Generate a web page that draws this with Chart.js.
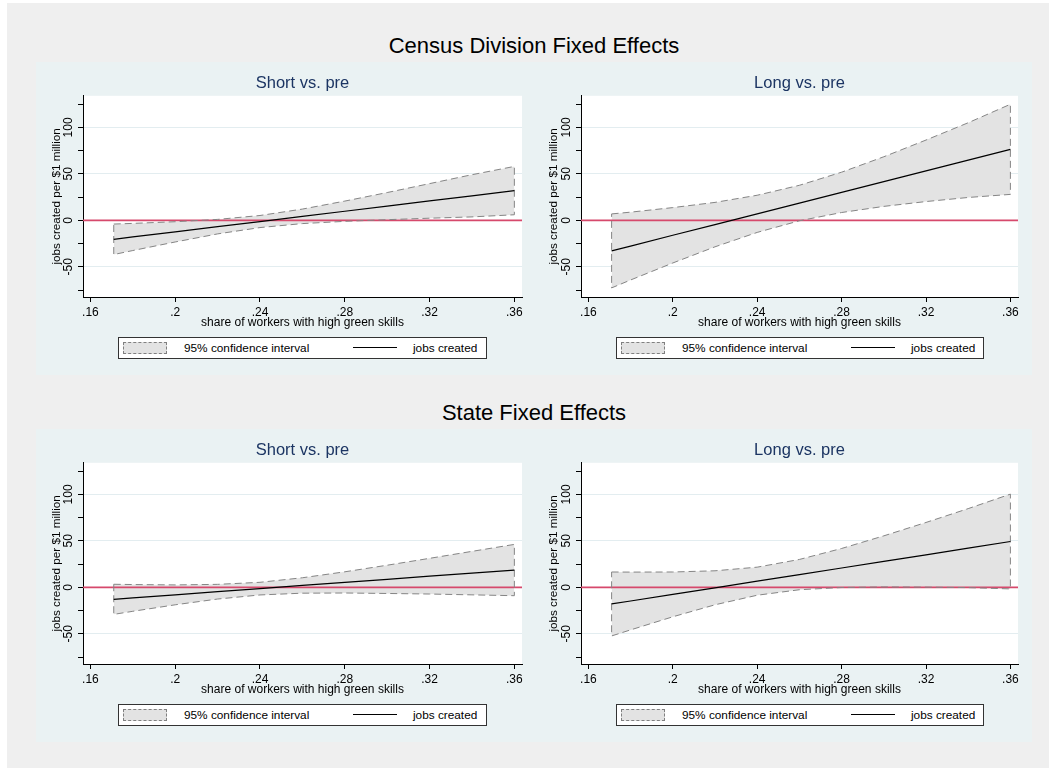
<!DOCTYPE html>
<html>
<head>
<meta charset="utf-8">
<script src="https://cdn.jsdelivr.net/npm/chart.js@4.4.1/dist/chart.umd.min.js"></script>
<style>
  body { margin: 0; width: 1049px; height: 768px; background: #fff; position: relative; overflow: hidden;
         font-family: "Liberation Sans", Arial, sans-serif; }
  #bg { position: absolute; left: 7px; top: 3px; width: 1042px; height: 765px; background: #efefef; }
  .sup { position: absolute; left: 36px; width: 996px; text-align: center; font-size: 22px; line-height: 24px; color: #000; }
  .panel { position: absolute; height: 313px; background: #eaf2f3; }
  .panel canvas { position: absolute; left: 0; top: 0; }
  .legend { position: absolute; top: 275px; height: 22px; box-sizing: border-box; border: 1px solid #333;
            background: #fff; font-size: 11.8px; color: #000; }
  .key-ci { position: absolute; left: 4px; top: 4px; width: 44px; height: 12px; box-sizing: border-box;
            background: #e3e3e3; border: 1px dashed #808080; }
  .key-line { position: absolute; left: 234px; top: 9px; width: 44px; height: 0; border-top: 1px solid #000; }
  .lab1 { position: absolute; left: 65px; top: 0; line-height: 20px; }
  .lab2 { position: absolute; left: 294px; top: 0; line-height: 20px; }
</style>
</head>
<body>
<div id="bg"></div>
<div class="sup" style="top:34px">Census Division Fixed Effects</div>
<div class="sup" style="top:401px">State Fixed Effects</div>

<div class="panel" style="left:36px; top:62px; width:492px">
  <canvas id="cdShort" width="492" height="268"></canvas>
  <div class="legend" style="left:82px; width:369px"><div class="key-ci"></div><span class="lab1">95% confidence interval</span><div class="key-line"></div><span class="lab2">jobs created</span></div>
</div>
<div class="panel" style="left:528px; top:62px; width:504px">
  <canvas id="cdLong" width="504" height="268"></canvas>
  <div class="legend" style="left:88px; width:368px"><div class="key-ci"></div><span class="lab1">95% confidence interval</span><div class="key-line"></div><span class="lab2">jobs created</span></div>
</div>
<div class="panel" style="left:36px; top:429px; width:492px">
  <canvas id="stShort" width="492" height="268"></canvas>
  <div class="legend" style="left:82px; width:369px"><div class="key-ci"></div><span class="lab1">95% confidence interval</span><div class="key-line"></div><span class="lab2">jobs created</span></div>
</div>
<div class="panel" style="left:528px; top:429px; width:504px">
  <canvas id="stLong" width="504" height="268"></canvas>
  <div class="legend" style="left:88px; width:368px"><div class="key-ci"></div><span class="lab1">95% confidence interval</span><div class="key-line"></div><span class="lab2">jobs created</span></div>
</div>

<script>
// share of workers with high green skills
const xs = [0.171, 0.18, 0.20, 0.22, 0.24, 0.26, 0.28, 0.30, 0.32, 0.34, 0.36];

// Census division FE, short vs. pre
const cdShortFit   = [-20.4, -17.9, -12.4, -6.8, -1.3, 4.3, 9.8, 15.3, 20.9, 26.4, 32.0];
const cdShortUpper = [-4.0, -3.3, -1.5, 1.0, 5.2, 12.1, 20.7, 29.9, 39.5, 49.1, 58.0];
const cdShortLower = [-36.8, -32.5, -23.3, -14.6, -7.8, -3.5, -1.1, 0.7, 2.3, 3.7, 6.0];

// Census division FE, long vs. pre
const cdLongFit   = [-32.9, -27.7, -16.1, -4.6, 7.0, 18.6, 30.1, 41.7, 53.3, 64.8, 76.4];
const cdLongUpper = [6.9, 8.8, 13.7, 19.3, 27.0, 37.7, 51.8, 68.4, 86.4, 105.0, 124.9];
const cdLongLower = [-72.7, -64.2, -45.9, -28.5, -13.0, -0.5, 8.4, 15.0, 20.2, 24.6, 27.9];

// State FE, short vs. pre
const stShortFit   = [-12.9, -11.4, -8.1, -4.7, -1.4, 2.0, 5.3, 8.6, 12.0, 15.3, 18.6];
const stShortUpper = [3.3, 3.0, 2.6, 3.2, 5.4, 10.3, 16.7, 23.8, 31.2, 38.7, 46.2];
const stShortLower = [-29.1, -25.8, -18.8, -12.6, -8.2, -6.3, -6.1, -6.6, -7.2, -8.1, -9.0];

// State FE, long vs. pre
const stLongFit   = [-17.9, -14.7, -7.6, -0.5, 6.6, 13.7, 20.8, 27.9, 35.0, 42.2, 49.3];
const stLongUpper = [16.5, 16.4, 16.5, 17.8, 21.7, 30.0, 41.8, 55.4, 69.8, 84.7, 100.3];
const stLongLower = [-52.3, -45.8, -31.7, -18.8, -8.5, -2.6, -0.2, 0.4, 0.2, -0.3, -1.7];

// axes
const xTicks = [0.16, 0.20, 0.24, 0.28, 0.32, 0.36];
const xTickLabels = ['.16', '.2', '.24', '.28', '.32', '.36'];
const yTicks = [-75, -50, -25, 0, 25, 50, 75, 100, 125];
const yTickLabels = ['', '-50', '', '0', '', '50', '', '100', ''];

const FONT = '"Liberation Sans", Arial, sans-serif';

function pts(ys) {
    return xs.map(function (x, i) { return { x: x, y: ys[i] }; });
}

// white plot region
const plotBg = {
    id: 'plotBg',
    beforeDraw(chart) {
        const a = chart.chartArea, ctx = chart.ctx;
        ctx.save();
        ctx.fillStyle = '#fff';
        ctx.fillRect(a.left, a.top, a.right - a.left, a.bottom - a.top);
        ctx.restore();
    }
};

// red reference line at y = 0, drawn over the band fill
const zeroLine = {
    id: 'zeroLine',
    afterDatasetDraw(chart, args) {
        if (args.index !== 0) return;
        const a = chart.chartArea, ctx = chart.ctx;
        const y = chart.scales.y.getPixelForValue(0);
        ctx.save();
        ctx.strokeStyle = '#d6496c';
        ctx.lineWidth = 1.8;
        ctx.beginPath();
        ctx.moveTo(a.left, y);
        ctx.lineTo(a.right, y);
        ctx.stroke();
        ctx.restore();
    }
};

function makeChart(id, title, fit, upper, lower, yWidth, rightPad, yTitlePad) {
    const outline = pts(upper).concat(pts(lower).reverse());
    outline.push(outline[0]);

    return new Chart(document.getElementById(id), {
        type: 'scatter',
        data: {
            datasets: [{
                data: pts(upper), showLine: true, pointRadius: 0, borderWidth: 0,
                backgroundColor: '#e3e3e3', fill: '+1', order: 3
            }, {
                data: pts(lower), showLine: true, pointRadius: 0, borderWidth: 0, fill: false, order: 3
            }, {
                data: outline, showLine: true, pointRadius: 0, fill: false,
                borderColor: '#858585', borderWidth: 1, borderDash: [7, 4], order: 1
            }, {
                data: pts(fit), showLine: true, pointRadius: 0, fill: false,
                borderColor: '#000', borderWidth: 1.2, order: 0
            }]
        },
        options: {
            responsive: false,
            animation: false,
            events: [],
            layout: { padding: { left: 0, right: rightPad, top: 0, bottom: 0 } },
            plugins: {
                legend: { display: false },
                tooltip: { enabled: false },
                title: {
                    display: true, text: title, color: '#1c3563', fullSize: false,
                    font: { family: FONT, size: 16.5, weight: 'normal' },
                    padding: { top: 12, bottom: 2 }
                }
            },
            scales: {
                x: {
                    type: 'linear', min: 0.1565, max: 0.3636,
                    afterBuildTicks(s) { s.ticks = xTicks.map(function (v) { return { value: v }; }); },
                    afterFit(s) { s.height = 33; },
                    ticks: {
                        autoSkip: false, maxRotation: 0, color: '#000', padding: 3,
                        font: { family: FONT, size: 12 },
                        callback: function (v, i) { return xTickLabels[i]; }
                    },
                    grid: { drawOnChartArea: false, tickLength: 5, tickColor: '#000' },
                    border: { color: '#000', width: 1 },
                    title: {
                        display: true, text: 'share of workers with high green skills', color: '#000',
                        font: { family: FONT, size: 12 }, padding: { top: 0, bottom: 0 }
                    }
                },
                y: {
                    type: 'linear', min: -82.5, max: 134,
                    afterBuildTicks(s) { s.ticks = yTicks.map(function (v) { return { value: v }; }); },
                    afterFit(s) { s.width = yWidth; },
                    ticks: {
                        autoSkip: false, minRotation: 90, maxRotation: 90, crossAlign: 'center',
                        padding: -1, color: '#000', font: { family: FONT, size: 12 },
                        callback: function (v, i) { return yTickLabels[i]; }
                    },
                    grid: {
                        color: function (c) {
                            return (c.tick && c.tick.value % 50 === 0 && c.tick.value !== 0) ? '#e3edf0' : 'rgba(0,0,0,0)';
                        },
                        tickColor: '#000', tickLength: 5
                    },
                    border: { color: '#000', width: 1 },
                    title: {
                        display: true, text: 'jobs created per $1 million', color: '#000',
                        font: { family: FONT, size: 11.7 }, padding: { top: yTitlePad, bottom: 0 }
                    }
                }
            }
        },
        plugins: [plotBg, zeroLine]
    });
}

makeChart('cdShort', 'Short vs. pre', cdShortFit, cdShortUpper, cdShortLower, 47, 6, 14);
makeChart('cdLong', 'Long vs. pre', cdLongFit, cdLongUpper, cdLongLower, 53, 14, 19);
makeChart('stShort', 'Short vs. pre', stShortFit, stShortUpper, stShortLower, 47, 6, 14);
makeChart('stLong', 'Long vs. pre', stLongFit, stLongUpper, stLongLower, 53, 14, 19);
</script>
</body>
</html>
